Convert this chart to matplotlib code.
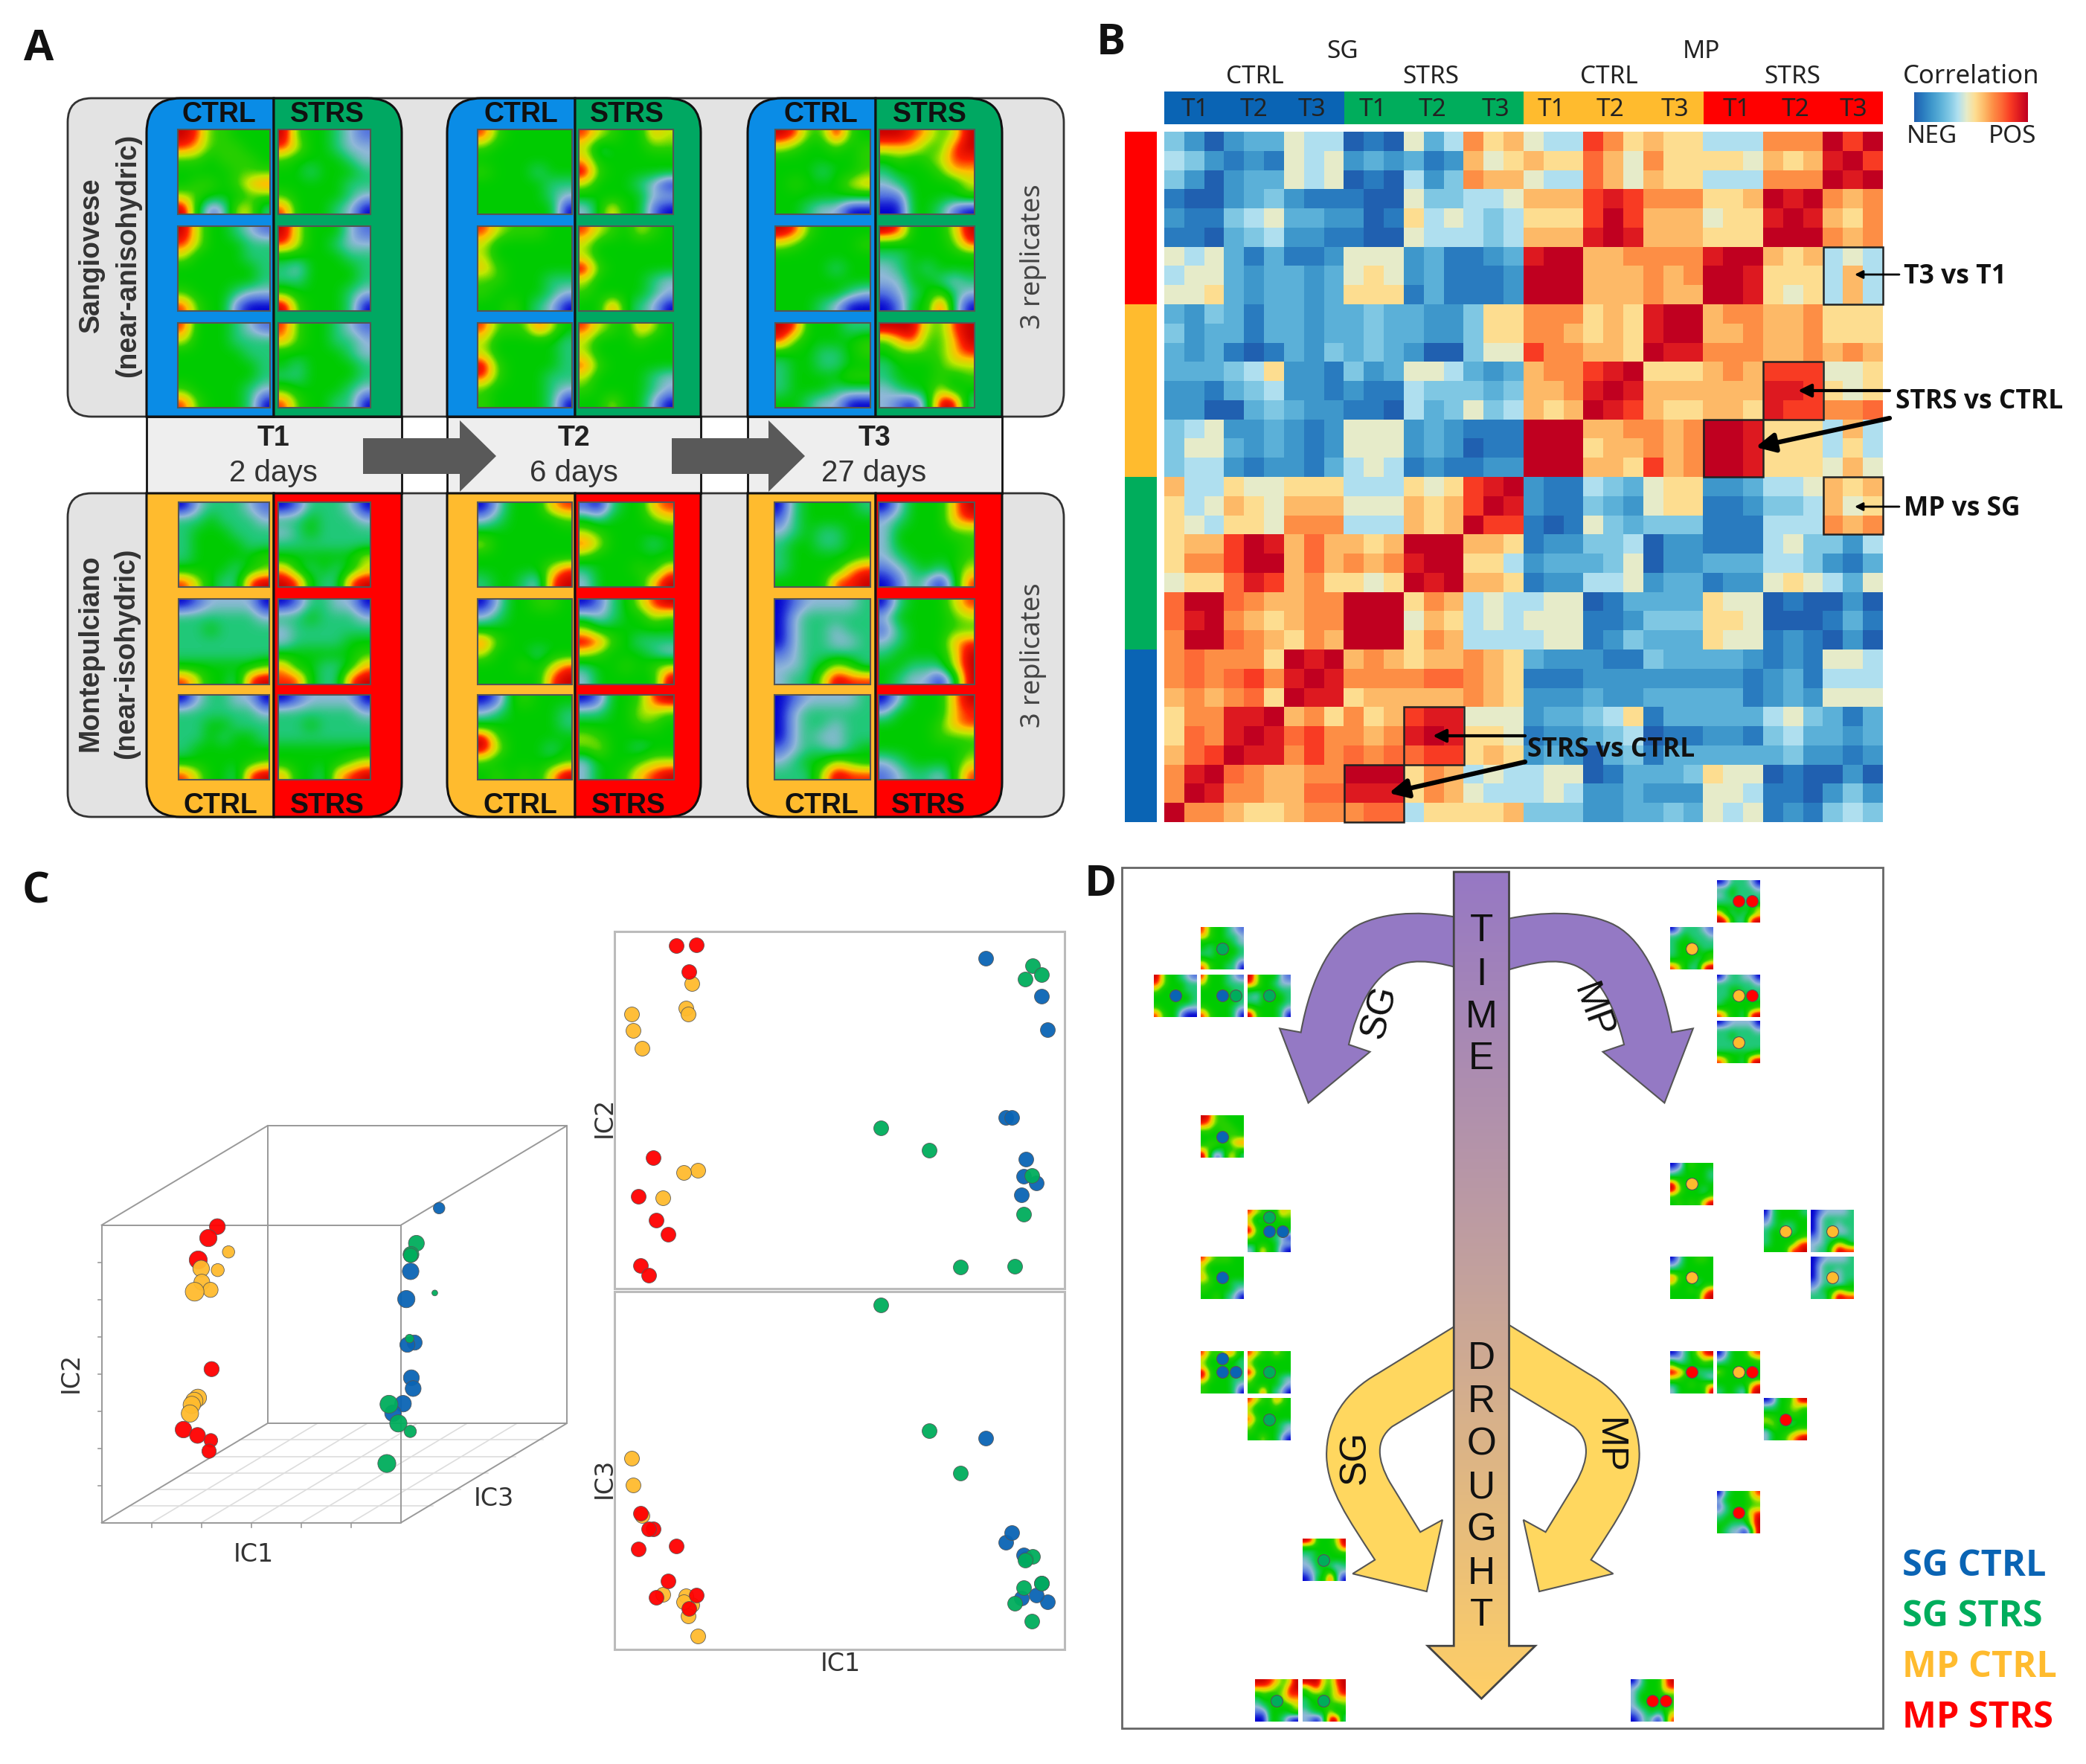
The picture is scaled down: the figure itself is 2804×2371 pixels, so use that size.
import numpy as np
import matplotlib
matplotlib.use("Agg")
import matplotlib.pyplot as plt
from matplotlib.colors import LinearSegmentedColormap
from matplotlib.patches import FancyBboxPatch, PathPatch, Rectangle, Polygon
from matplotlib.path import Path

W, H = 2804, 2371
DPI = 100

# panel B: correlation levels (one character = one colour step)
HEAT_TOP = [
    "420233655010635978655b97877555999dbd",
    "542121656232312867877a86977776878cdb",
    "420233656010524988655a86877555999dcd",
    "100234211100644556888bcb999778dcd989",
    "211456332201756545777bdb888677cdc879",
    "110345221100655545888cdc888777ddd989",
    "656313112666231123cdd889999cdd878565",
    "566323323676231112ddd888989ddc777585",
    "667323323777131112ddd888988ddc767585",
    "324313323343322477999787cdd899889777",
    "423313323343322477998787cdd889889777",
    "323101324343200466b99887dcc999889898",
    "333457221423665323899bcd777898bbb667",
    "221345221211544434889cdc888888ccb767",
    "220034322110534645878dcb877887cbb99a",
    "456223212666232111ddd889989ddc777585",
    "466323212666232011ddd788989ddc777575",
    "455212213565121122ddd887b89ddc777686",
]
HEAT_BOTTOM_LEFT = [
    "855766777555767bcd",
    "756876888666878bdc",
    "765776999555878dbb",
    "788bdc8a8878ddd887",
    "799bdd8a8989cdd775",
    "677acb897767dcd887",
    "adda98899ddd798565",
    "acd987899ddd687565",
    "9dda98798ddd798555",
    "9a9997dcd898788987",
    "9a9ab9cdc9999aa987",
    "8989a7dcc788888987",
    "799ccd897978bcc666",
    "7a9cdcab9989cdc776",
    "8abdcc9b9a9aabb787",
    "9cda98899ddd798565",
    "9dc9988aaccc798655",
    "d998778999aa577778",
]
HEAT_COLORS = ["#2060b0", "#2a7cc0", "#3f98cc", "#5bb0d8", "#80c8e4", "#b0e0f0", "#e6ecca",
               "#fedd90", "#fdba68", "#fd8f46", "#fd6a36", "#f93c24", "#de1a20", "#c00020"]
TIME_LABELS = ["T1", "T2", "T3"] * 4
BOXES = [(33, 6), (30, 12), (27, 15), (33, 18), (12, 30), (9, 33)]

# panel A: canopy temperature thumbnails, 7x7 levels, rows top to bottom
SG_CTRL_T1 = ["9855444 8755544 5545554 4444555 4554578 6544455 9412663",
              "9644321 8644433 6444433 4444443 4444443 5444322 8544100",
              "8444321 6444333 4444433 4444443 4444443 5444432 8544430"]
SG_STRS_T1 = ["9544321 8644322 5444432 4434443 4444433 5444432 8444320",
              "9644421 8644322 4444433 3244443 3344443 5444432 9544430",
              "8544321 7544332 4444432 4344443 3344443 5444432 8544330"]
SG_CTRL_T2 = ["8544444 5444444 4444444 5444344 4444433 4444432 4444440",
              "8655544 6444444 6444444 7544444 5544433 5444432 4454320",
              "8555864 6444443 6444443 9544443 8544433 5444432 5444430"]
SG_STRS_T2 = ["8654476 6344455 7444444 9544444 6444320 4444422 2474410",
              "8654654 6444444 6444444 9544444 6444432 5444432 4484320",
              "8654764 6444544 6444444 8544444 6444432 5444432 4464420"]
SG_CTRL_T3 = ["9855954 6544545 4444445 4443445 4544467 4444444 4432200",
              "9854444 6544445 4444444 4444344 4444444 4444432 4443200",
              "9844433 8544445 4443345 3443344 3444455 3444333 4432200"]
SG_STRS_T3 = ["9987569 7775589 4545688 3444577 2344446 1144445 0044310",
              "9844469 4444458 3344444 2343444 2244323 1234532 0144930",
              "9996589 5785579 4555578 3444566 3444545 2344644 2103993"]
MP_CTRL_T1 = ["0233321 3343332 3444333 3444433 3444445 4444345 8643389",
              "0122220 3333332 3343333 3333333 3333333 4444445 8644389",
              "0233220 3333332 3344333 3343443 3444444 4444445 8644389"]
MP_STRS_T1 = ["0133320 3343332 2343333 3333333 4444446 7434346 9843389",
              "0133220 3343332 2333333 2333344 4444445 7443347 8843389",
              "0122220 3333332 3343333 3333333 4444444 4444456 7443789"]
MP_CTRL_T2 = ["0244478 2344445 4444444 6444444 4444444 4444468 3443289",
              "0244554 2344444 4444444 8544444 6444344 4445468 4444489",
              "0145444 2344443 4444443 9544444 9644434 5444445 4545479"]
MP_STRS_T2 = ["1034478 4344456 6544444 8644434 5444444 3444547 2444479",
              "0134689 3234465 6444444 9854333 6544432 3445456 2444449",
              "0144589 3344665 4444554 6544444 5644344 2444566 2445789"]
MP_CTRL_T3 = ["0344443 1344444 2343344 3443344 3444445 3444478 4444889",
              "0122223 0233333 0233233 0233223 1233333 2234653 2336988",
              "0122223 0233333 0233233 0232233 1233234 2344654 3336988"]
MP_STRS_T3 = ["0244479 2344478 2444455 2444445 2344445 1234346 0132038",
              "0344468 2444456 1344455 2344478 3444469 4433369 4322039",
              "0244479 2444478 4444578 4444555 4444445 2344446 1233248"]

# panel C: 3D view, screen position and marker width per sample
C3_RED_X = [479, 454, 426, 463, 385, 424, 461, 456]
C3_RED_Y = [407, 444, 515, 869, 1065, 1084, 1100, 1135]
C3_RED_W = [44, 48, 50, 42, 46, 44, 38, 40]
C3_YEL_X = [510, 480, 434, 436, 460, 416, 425, 415, 408, 403]
C3_YEL_Y = [489, 548, 543, 587, 612, 618, 962, 972, 985, 1013]
C3_YEL_W = [34, 36, 46, 44, 42, 52, 48, 48, 48, 48]
C3_BLU_X = [1094, 1015, 1003, 1026, 1006, 1017, 1022, 994, 966]
C3_BLU_Y = [347, 552, 642, 783, 790, 897, 932, 981, 1012]
C3_BLU_W = [32, 46, 48, 42, 42, 44, 44, 46, 46]
C3_GRN_X = [1031, 1016, 1015, 1082, 1012, 955, 981, 1014, 949]
C3_GRN_Y = [461, 497, 500, 622, 770, 983, 1045, 1071, 1175]
C3_GRN_W = [44, 44, 40, 16, 24, 50, 48, 34, 50]

# panel C: IC projections
RED_IC1 = [260, 324, 300, 186, 139, 194, 232, 146, 172]
RED_IC2 = [63, 61, 117, 501, 581, 631, 660, 725, 745]
RED_IC3 = [1304, 1405, 1433, 1268, 1309, 1410, 1376, 1236, 1268]
YEL_IC1 = [310, 289, 296, 117, 121, 150, 329, 283, 216]
YEL_IC2 = [142, 192, 205, 204, 238, 275, 527, 532, 584]
YEL_IC3 = [1425, 1406, 1448, 1122, 1178, 1240, 1490, 1418, 1404]
BLU_IC1 = [1247, 1425, 1444, 1312, 1330, 1376, 1368, 1409, 1362]
BLU_IC2 = [89, 168, 237, 419, 419, 505, 540, 554, 578]
BLU_IC3 = [1081, 1380, 1418, 1295, 1276, 1330, 1322, 1405, 1411]
GRN_IC1 = [1397, 1425, 1373, 913, 1067, 1394, 1369, 1166, 1341]
GRN_IC2 = [105, 123, 132, 440, 486, 538, 618, 728, 726]
GRN_IC3 = [1325, 1380, 1333, 805, 1066, 1459, 1389, 1153, 1421]

BLUE, GREEN, YELLOW, RED = "#0a64b4", "#00ad5c", "#ffbb2e", "#ff0000"
DOT_COLORS = {"b": BLUE, "g": GREEN, "y": YELLOW, "r": RED}

temp_cmap = LinearSegmentedColormap.from_list(
    "temp", ["#0000d0", "#5070e0", "#90b8d8", "#20c878", "#00cc00",
             "#28d000", "#c0e800", "#ffc000", "#ff2000", "#c80000"])
heat_cmap = LinearSegmentedColormap.from_list("heat", HEAT_COLORS)


def levels(text):
    return np.array([[int(c, 16) for c in row] for row in text.split()], dtype=float)


def thumb(ax, text, x0, x1, y0, y1, edge="#555555", lw=1.5):
    ax.imshow(levels(text), extent=(x0, x1, y1, y0), cmap=temp_cmap, vmin=0, vmax=9,
              interpolation="bicubic", aspect="auto", zorder=3)
    if edge:
        ax.add_patch(Rectangle((x0, y0), x1 - x0, y1 - y0, fc="none", ec=edge, lw=lw, zorder=3.5))


def half_panel(ax, x0, x1, y0, y1, corner, color, r=46):
    corners = {"tl": (x0, y0), "tr": (x1, y0), "br": (x1, y1), "bl": (x0, y1)}
    order = ["tl", "tr", "br", "bl"]
    verts, codes = [], []
    for i, name in enumerate(order):
        p = np.array(corners[name], float)
        if name == corner:
            prev = np.array(corners[order[i - 1]], float)
            nxt = np.array(corners[order[(i + 1) % 4]], float)
            a = p + r * (prev - p) / np.linalg.norm(prev - p)
            b = p + r * (nxt - p) / np.linalg.norm(nxt - p)
            verts += [a, p, b]
            codes += [Path.LINETO, Path.CURVE3, Path.CURVE3]
        else:
            verts.append(p)
            codes.append(Path.LINETO)
    codes[0] = Path.MOVETO
    verts.append(verts[0])
    codes.append(Path.CLOSEPOLY)
    ax.add_patch(PathPatch(Path(verts, codes), fc=color, ec="#111111", lw=2.2, zorder=2))


fig = plt.figure(figsize=(W / DPI, H / DPI), dpi=DPI, facecolor="white")
ax = fig.add_axes([0, 0, 1, 1], zorder=1)
ax.set_xlim(0, W)
ax.set_ylim(H, 0)
ax.axis("off")
ax.autoscale(False)

SANS = "Liberation Sans"
NOTO = "Noto Sans"
OPEN = "Open Sans"

for label, x, y in [("A", 52, 66), ("B", 1493, 58), ("C", 48, 1198), ("D", 1479, 1189)]:
    ax.text(x, y, label, family=OPEN, weight="bold", fontsize=42, ha="center", va="center", color="#111111", zorder=6)

# ---- panel A
for y0, y1 in [(132, 560), (663, 1098)]:
    ax.add_patch(FancyBboxPatch((91, y0), 1339, y1 - y0, boxstyle="round,pad=0,rounding_size=32",
                                fc="#e3e3e3", ec="#333333", lw=2, zorder=1))

col_x = [(197, 368, 540), (601, 773, 942), (1005, 1177, 1347)]
top_x = [(239, 363, 374, 498), (642, 769, 778, 905), (1042, 1170, 1182, 1310)]
bot_x = [(240, 362, 374, 498), (642, 769, 778, 906), (1041, 1170, 1181, 1310)]
top_y = [(174, 288), (304, 418), (434, 548)]
bot_y = [(675, 789), (805, 920), (934, 1048)]
top_sets = [(SG_CTRL_T1, SG_STRS_T1), (SG_CTRL_T2, SG_STRS_T2), (SG_CTRL_T3, SG_STRS_T3)]
bot_sets = [(MP_CTRL_T1, MP_STRS_T1), (MP_CTRL_T2, MP_STRS_T2), (MP_CTRL_T3, MP_STRS_T3)]

for i, (x0, xm, x1) in enumerate(col_x):
    ax.add_patch(Rectangle((x0, 560), x1 - x0, 103, fc="#eeeeee", ec="#111111", lw=2, zorder=1.5))
    half_panel(ax, x0, xm, 132, 560, "tl", "#0a8ce6")
    half_panel(ax, xm, x1, 132, 560, "tr", "#00a862")
    half_panel(ax, x0, xm, 663, 1098, "bl", YELLOW)
    half_panel(ax, xm, x1, 663, 1098, "br", RED)
    a0, a1, b0, b1 = top_x[i]
    for r, (y0, y1) in enumerate(top_y):
        thumb(ax, top_sets[i][0][r], a0, a1, y0, y1)
        thumb(ax, top_sets[i][1][r], b0, b1, y0, y1)
    a0, a1, b0, b1 = bot_x[i]
    for r, (y0, y1) in enumerate(bot_y):
        thumb(ax, bot_sets[i][0][r], a0, a1, y0, y1)
        thumb(ax, bot_sets[i][1][r], b0, b1, y0, y1)

for x, y, s in [(294, 154, "CTRL"), (440, 154, "STRS"), (700, 154, "CTRL"), (843, 154, "STRS"),
                (1103, 154, "CTRL"), (1250, 154, "STRS"), (296, 1083, "CTRL"), (440, 1083, "STRS"),
                (699, 1083, "CTRL"), (845, 1083, "STRS"), (1104, 1083, "CTRL"), (1248, 1083, "STRS")]:
    ax.text(x, y, s, family=SANS, weight="bold", fontsize=27, ha="center", va="center", color="#111111", zorder=6)

for i, (t, d) in enumerate([("T1", "2 days"), ("T2", "6 days"), ("T3", "27 days")]):
    x = [367, 771, 1175][i]
    ax.text(x, 589, t, family=SANS, weight="bold", fontsize=27, ha="center", va="center", color="#222222", zorder=6)
    ax.text(x, 636, d, family=SANS, fontsize=29, ha="center", va="center", color="#333333", zorder=6)

for x in [488, 903]:
    ax.add_patch(Polygon([(x, 589), (x + 130, 589), (x + 130, 565), (x + 179, 613), (x + 130, 661),
                          (x + 130, 637), (x, 637)], fc="#595959", ec="none", zorder=5))

for x, y, s in [(123, 343, "Sangiovese"), (172, 343, "(near-anisohydric)"),
                (122, 878, "Montepulciano"), (170, 878, "(near-isohydric)")]:
    ax.text(x, y, s, family=SANS, weight="bold", fontsize=27, rotation=90, ha="center", va="center",
            color="#333333", zorder=6)
for y in [345, 881]:
    ax.text(1389, y, "3 replicates", family=NOTO, fontsize=26, rotation=90, ha="center", va="center",
            color="#444444", zorder=6)

# ---- panel B
heat = np.full((36, 36), np.nan)
heat[:18] = [[int(c, 16) for c in row] for row in HEAT_TOP]
heat[18:, :18] = [[int(c, 16) for c in row] for row in HEAT_BOTTOM_LEFT]
for i in range(18, 36):
    for j in range(18, 36):
        heat[i, j] = heat[35 - j, 35 - i]  # the matrix mirrors across its diagonal

ax_b = fig.add_axes([1565 / W, 1 - 1105 / H, 966 / W, 928 / H], zorder=2)
ax_b.imshow(heat, cmap=heat_cmap, vmin=0, vmax=13, aspect="auto", interpolation="nearest")
ax_b.axis("off")
for c, r in BOXES:
    ax_b.add_patch(Rectangle((c - 0.5, r - 0.5), 3, 3, fc="none", ec="#222222", lw=1.8, clip_on=False))

band_colors = [BLUE, GREEN, YELLOW, RED]
for i, color in enumerate(band_colors):
    x0 = 1565 + i * 966 / 4
    ax.add_patch(Rectangle((x0, 123), 966 / 4, 44, fc=color, ec="none", zorder=2))
    ax.add_patch(Rectangle((1512, 1105 - (i + 1) * 232), 43, 232, fc=color, ec="none", zorder=2))
t_x = [150, 243, 335, 433, 527, 628, 717, 811, 913, 1012, 1105, 1197]
for zx, s in zip(t_x, TIME_LABELS):
    ax.text(1480 + zx / 1.184, 147, s, family=NOTO, fontsize=24, ha="center", va="center", color="#222222", zorder=6)
for x, y, s, size in [(1805, 70, "SG", 24), (2287, 70, "MP", 24), (1687, 104, "CTRL", 24), (1923, 104, "STRS", 24),
                      (2163, 104, "CTRL", 24), (2409, 104, "STRS", 24), (2650, 103, "Correlation", 25),
                      (2597, 183, "NEG", 24), (2705, 183, "POS", 24)]:
    ax.text(x, y, s, family=NOTO, fontsize=size, ha="center", va="center", color="#222222", zorder=6)
ax.imshow(np.linspace(0, 13, 256)[None, :], extent=(2573, 2726, 164, 124), cmap=heat_cmap, vmin=0, vmax=13,
          aspect="auto", zorder=3)

ax_over = fig.add_axes([0, 0, 1, 1], zorder=3)
ax_over.set_xlim(0, W)
ax_over.set_ylim(H, 0)
ax_over.axis("off")
ax_over.patch.set_alpha(0)
for x, y, s in [(2559, 372, "T3 vs T1"), (2548, 540, "STRS vs CTRL"), (2559, 684, "MP vs SG"), (2053, 1008, "STRS vs CTRL")]:
    ax_over.text(x, y, s, family=OPEN, weight="bold", fontsize=25.5, ha="left", va="center", color="#111111")
for tail, tip, lw, ms in [((2553, 369), (2493, 369), 2, 16), ((2553, 681), (2493, 681), 2, 16),
                          ((2540, 525), (2417, 525), 3, 26), ((2540, 562), (2360, 601), 4.5, 38),
                          ((2050, 989), (1926, 989), 3, 26), ((2050, 1024), (1867, 1066), 4.5, 38)]:
    ax_over.annotate("", xy=tip, xytext=tail, arrowprops=dict(arrowstyle="-|>", lw=lw, color="black", mutation_scale=ms,
                                                              shrinkA=0, shrinkB=0))

# ---- panel C, 3D view
ax_c = fig.add_axes([60 / W, 1 - 2130 / H, 760 / W, 650 / H], zorder=2)
ax_c.set_xlim(0, 1568)
ax_c.set_ylim(1568, 0)
ax_c.axis("off")
for k in range(1, 6):
    f = k / 6
    ax_c.plot([158 + 830 * f, 618 + 830 * f], [1367, 1045], color="#dddddd", lw=1.2)
    ax_c.plot([158 + 460 * f, 988 + 460 * f], [1367 - 322 * f, 1367 - 322 * f], color="#dddddd", lw=1.2)
    ax_c.plot([158 + 830 * f] * 2, [1367, 1382], color="#999999", lw=1.2)
    ax_c.plot([988 + 460 * f, 988 + 460 * f + 12], [1367 - 322 * f, 1367 - 322 * f], color="#dddddd", lw=1.2)
for k in range(1, 8):
    y = 1367 - 965 * k / 8
    ax_c.plot([148, 158], [y, y], color="#999999", lw=1.2)
for xs, ys in [([158, 988, 988, 158, 158], [1367, 1367, 402, 402, 1367]),
               ([618, 1448, 1448, 618, 618], [1045, 1045, 80, 80, 1045]),
               ([158, 618], [1367, 1045]), ([988, 1448], [1367, 1045]),
               ([158, 618], [402, 80]), ([988, 1448], [402, 80])]:
    ax_c.plot(xs, ys, color="#999999", lw=1.4)


def size3(widths):
    return [(w / 2.063 * 0.72) ** 2 for w in widths]


for xs, ys, ws, color in [(C3_RED_X, C3_RED_Y, C3_RED_W, RED), (C3_YEL_X, C3_YEL_Y, C3_YEL_W, YELLOW),
                          (C3_BLU_X, C3_BLU_Y, C3_BLU_W, BLUE), (C3_GRN_X, C3_GRN_Y, C3_GRN_W, GREEN)]:
    ax_c.scatter(xs, ys, s=size3(ws), color=color, edgecolors="#555555", linewidths=0.6, alpha=0.95, zorder=3)
for x, y, s, rot in [(72, 880, "IC2", 90), (580, 1470, "IC1", 0), (1245, 1290, "IC3", 0)]:
    ax_c.text(x, y, s, family="DejaVu Sans", fontsize=24, rotation=rot, ha="center", va="center", color="#333333")

# ---- panel C, projections
for y0, y1, ylim, ys_by_group, name in [
        (1252, 1732, (772, 34), (RED_IC2, YEL_IC2, BLU_IC2, GRN_IC2), "IC2"),
        (1736, 2217, (1517, 778), (RED_IC3, YEL_IC3, BLU_IC3, GRN_IC3), "IC3")]:
    a = fig.add_axes([826 / W, 1 - y1 / H, 604.5 / W, (y1 - y0) / H], zorder=2)
    a.set_xlim(62, 1498)
    a.set_ylim(*ylim)
    a.set_xticks([])
    a.set_yticks([])
    for s in a.spines.values():
        s.set_color("#bbbbbb")
        s.set_linewidth(2.2)
    for xs, ys, color in zip((BLU_IC1, GRN_IC1, YEL_IC1, RED_IC1), (ys_by_group[2], ys_by_group[3], ys_by_group[1], ys_by_group[0]),
                             (BLUE, GREEN, YELLOW, RED)):
        a.scatter(xs, ys, s=205, color=color, edgecolors="#555555", linewidths=0.6, alpha=0.95, zorder=3)
    ax.text(812, (y0 + y1) / 2 + 10, name, family="DejaVu Sans", fontsize=24, rotation=90, ha="center", va="center",
            color="#333333", zorder=6)
ax.text(1130, 2237, "IC1", family="DejaVu Sans", fontsize=24, ha="center", va="center", color="#333333", zorder=6)


# ---- panel D, sketch coordinates are relative to its frame
def dx(v):
    return 1500 + v / 1.508


def dy(v):
    return 1160 + v / 1.34


ax.add_patch(Rectangle((dx(12), dy(8)), dx(1555) - dx(12), dy(1558) - dy(8), fc="white", ec="#666666", lw=2, zorder=1))


def sketch(steps, mirror=None):
    verts, codes = [], []
    for code, pts in steps:
        for p in pts:
            x = p[0] if mirror is None else mirror - p[0]
            verts.append((dx(x), dy(p[1])))
            codes.append(code)
    verts.append(verts[0])
    codes.append(Path.CLOSEPOLY)
    return Path(verts, codes)


M, L, C = Path.MOVETO, Path.LINETO, Path.CURVE4
purple_steps = [(M, [(705, 100)]), (C, [(640, 88), (560, 85), (500, 108)]), (C, [(440, 130), (395, 205), (375, 305)]),
                (L, [(332, 298), (390, 432), (515, 340), (472, 327)]),
                (C, [(490, 260), (520, 205), (570, 185)]), (C, [(610, 170), (660, 180), (705, 192)])]
yellow_steps = [(M, [(691, 832)]), (L, [(530, 920)]), (C, [(470, 950), (425, 1000), (427, 1070)]),
                (C, [(430, 1130), (470, 1180), (525, 1255)]), (L, [(480, 1280), (630, 1312), (662, 1183), (617, 1205), (555, 1115)]),
                (C, [(530, 1075), (525, 1040), (560, 1015)]), (L, [(691, 945)])]
for steps, mirror, color in [(purple_steps, None, "#9479c4"), (purple_steps, 1502, "#9479c4"),
                             (yellow_steps, None, "#ffd75f"), (yellow_steps, 1488, "#ffd75f")]:
    ax.add_patch(PathPatch(sketch(steps, mirror), fc=color, ec="#555555", lw=1.5, zorder=2))

shaft = PathPatch(sketch([(M, [(685, 16)]), (L, [(797, 16), (797, 1410), (850, 1410), (741, 1505), (632, 1410), (685, 1410)])]),
                  fc="none", ec="#444444", lw=2, zorder=4)
ax.add_patch(shaft)
gradient_cmap = LinearSegmentedColormap.from_list("time", ["#9678c4", "#c4a29c", "#ffcf66"])
im = ax.imshow(np.linspace(0, 1, 256)[:, None], extent=(dx(632), dx(850), dy(1505), dy(16)), cmap=gradient_cmap,
               aspect="auto", zorder=3)
im.set_clip_path(shaft)

for s, zy in zip("TIME", [120, 198, 275, 350]):
    ax.text(dx(741), dy(zy + 3), s, family=SANS, fontsize=37, ha="center", va="center", color="#111111", zorder=6)
for s, zy in zip("DROUGHT", [890, 968, 1045, 1122, 1199, 1277, 1353]):
    ax.text(dx(741), dy(zy + 3), s, family=SANS, fontsize=37, ha="center", va="center", color="#111111", zorder=6)
for s, zx, zy, rot in [("SG", 535, 268, 75), ("MP", 965, 268, -70), ("SG", 485, 1070, 90), ("MP", 998, 1050, -90)]:
    ax.text(dx(zx), dy(zy), s, family=SANS, fontsize=36, rotation=rot, ha="center", va="center", color="#111111", zorder=6)

D_THUMBS = [
    (172, 116, SG_STRS_T1[2], "g"), (77, 201, SG_CTRL_T1[1], "b"), (172, 201, SG_CTRL_T1[2], "bg"),
    (267, 201, SG_STRS_T1[1], "g"), (172, 455, SG_CTRL_T1[0], "b"), (267, 625, SG_STRS_T2[0], "gbb"),
    (172, 709, SG_CTRL_T2[1], "b"), (172, 879, SG_CTRL_T2[2], "bbb"), (267, 879, SG_STRS_T2[1], "g"),
    (267, 964, SG_STRS_T2[2], "g"), (378, 1217, SG_STRS_T3[1], "g"), (282, 1471, SG_STRS_T3[0], "g"),
    (378, 1471, SG_STRS_T3[2], "g"), (1219, 31, MP_STRS_T1[0], "rr"), (1124, 116, MP_CTRL_T1[0], "y"),
    (1219, 201, MP_CTRL_T1[2], "yr"), (1219, 285, MP_CTRL_T1[1], "y"), (1124, 540, MP_CTRL_T2[2], "y"),
    (1314, 625, MP_CTRL_T3[0], "y"), (1409, 625, MP_CTRL_T3[1], "y"), (1124, 709, MP_CTRL_T2[1], "y"),
    (1409, 709, MP_CTRL_T3[2], "y"), (1124, 879, MP_STRS_T2[1], "r"), (1219, 879, MP_CTRL_T2[0], "yr"),
    (1314, 964, MP_STRS_T2[2], "r"), (1219, 1132, MP_STRS_T3[1], "r"), (1044, 1471, MP_STRS_T3[0], "rr"),
]
for zx, zy, text, dots in D_THUMBS:
    thumb(ax, text, dx(zx), dx(zx + 86), dy(zy), dy(zy + 76), edge=None)
    cx, cy = zx + 43, zy + 38
    if len(dots) == 3:
        spots = [(cx, cy - 25), (cx, cy), (cx + 28, cy)]
    elif len(dots) == 2:
        spots = [(cx, cy), (cx + 28, cy)]
    else:
        spots = [(cx, cy)]
    for key, (sx, sy) in zip(dots, spots):
        ax.scatter(dx(sx), dy(sy), s=130, color=DOT_COLORS[key], edgecolors="#555555", linewidths=0.8, zorder=4)

for y, s, color in [(2106, "SG CTRL", BLUE), (2174, "SG STRS", GREEN), (2242, "MP CTRL", YELLOW), (2310, "MP STRS", RED)]:
    ax.text(2557, y, s, family=OPEN, weight="bold", fontsize=35, ha="left", va="center", color=color, zorder=6)

fig.savefig("out.png", dpi=DPI)
